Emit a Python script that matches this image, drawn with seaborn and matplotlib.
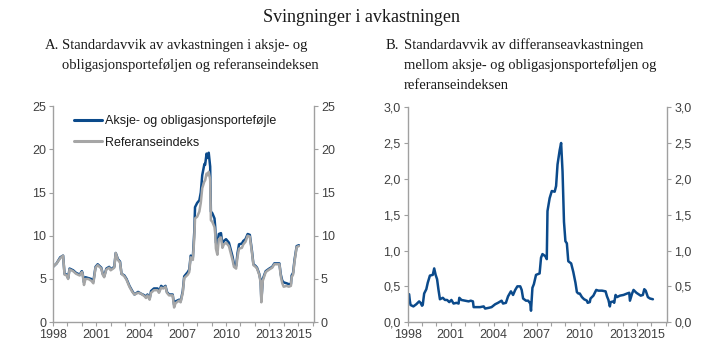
import matplotlib
matplotlib.use("Agg")
import matplotlib.pyplot as plt
import seaborn as sns
import pandas as pd
from matplotlib.ticker import FuncFormatter

# panel A: standard deviation of returns (percent)
years_a = [1998.00, 1998.25, 1998.50, 1998.70, 1998.80, 1998.95, 1999.05, 1999.15, 1999.40, 1999.60,
           1999.85, 2000.00, 2000.05, 2000.15, 2000.25, 2000.45, 2000.65, 2000.80, 2000.95, 2001.10,
           2001.35, 2001.45, 2001.55, 2001.70, 2001.90, 2002.00, 2002.25, 2002.35, 2002.50, 2002.65,
           2002.75, 2002.95, 2003.10, 2003.30, 2003.50, 2003.65, 2003.90, 2004.10, 2004.35, 2004.45,
           2004.55, 2004.70, 2004.80, 2005.00, 2005.25, 2005.35, 2005.50, 2005.65, 2005.80, 2005.90,
           2006.05, 2006.30, 2006.40, 2006.50, 2006.75, 2006.85, 2007.00, 2007.10, 2007.35, 2007.45,
           2007.55, 2007.70, 2007.80, 2007.85, 2008.00, 2008.15, 2008.25, 2008.35, 2008.50, 2008.55,
           2008.65, 2008.72, 2008.80, 2008.90, 2008.95, 2009.05, 2009.20, 2009.25, 2009.30, 2009.40,
           2009.50, 2009.65, 2009.75, 2009.85, 2010.00, 2010.20, 2010.45, 2010.55, 2010.70, 2010.80,
           2010.90, 2011.10, 2011.20, 2011.35, 2011.50, 2011.65, 2011.80, 2011.90, 2012.05, 2012.15,
           2012.30, 2012.40, 2012.45, 2012.55, 2012.75, 2013.00, 2013.20, 2013.35, 2013.70, 2013.80,
           2013.90, 2014.00, 2014.20, 2014.35, 2014.50, 2014.55, 2014.65, 2014.75, 2014.90, 2015.05]
portfolio = [6.4, 6.8, 7.5, 7.7, 5.6, 5.5, 5.1, 6.2, 6.0, 5.7,
             5.5, 5.9, 5.7, 4.6, 5.2, 5.1, 5.0, 4.7, 6.4, 6.7,
             6.3, 5.6, 5.3, 6.2, 6.4, 6.1, 6.4, 8.0, 7.3, 7.0,
             5.6, 5.4, 5.0, 4.2, 3.6, 3.2, 3.5, 3.3, 3.1, 2.9,
             3.2, 2.7, 3.6, 3.9, 3.9, 3.5, 4.2, 4.0, 4.2, 3.5,
             3.2, 3.2, 2.0, 2.4, 2.6, 2.4, 3.6, 5.3, 5.8, 6.1,
             7.7, 7.5, 10.5, 13.3, 13.8, 14.1, 15.0, 17.0, 18.3, 18.2,
             19.5, 19.0, 19.6, 18.0, 12.8, 12.6, 12.0, 11.0, 9.2, 9.0,
             10.2, 10.3, 9.0, 9.4, 9.6, 9.2, 7.6, 6.7, 6.5, 8.0,
             9.0, 9.1, 9.4, 9.6, 10.2, 10.1, 8.2, 6.7, 6.5, 6.3,
             5.6, 4.8, 2.5, 5.0, 5.9, 6.2, 6.4, 6.8, 6.8, 5.5,
             4.8, 4.6, 4.5, 4.4, 4.4, 5.4, 5.7, 7.2, 8.8, 8.9]
benchmark = [6.4, 6.8, 7.4, 7.7, 5.5, 5.4, 5.0, 6.1, 5.9, 5.6,
             5.4, 5.8, 5.6, 4.3, 5.0, 5.0, 4.8, 4.5, 6.3, 6.6,
             6.2, 5.5, 5.2, 6.1, 6.3, 6.0, 6.3, 8.0, 7.2, 6.9,
             5.6, 5.3, 4.9, 4.1, 3.5, 3.2, 3.4, 3.3, 3.0, 2.8,
             3.1, 2.6, 3.4, 3.7, 3.7, 3.4, 4.0, 3.9, 4.1, 3.4,
             3.1, 3.1, 1.7, 2.2, 2.5, 2.3, 3.4, 5.1, 5.5, 5.8,
             7.5, 7.2, 9.8, 12.0, 12.2, 12.8, 13.8, 15.5, 16.3, 16.4,
             17.2, 17.0, 17.4, 16.5, 11.8, 11.6, 11.0, 10.2, 8.5, 7.8,
             9.6, 9.8, 8.6, 9.0, 9.2, 8.8, 7.2, 6.4, 6.2, 7.6,
             8.5, 8.6, 9.0, 9.3, 10.0, 9.9, 8.0, 6.6, 6.4, 6.2,
             5.5, 4.6, 2.3, 4.8, 5.8, 6.1, 6.3, 6.7, 6.7, 5.3,
             4.5, 4.1, 4.2, 4.1, 4.2, 5.2, 5.5, 7.0, 8.7, 8.8]

# panel B: standard deviation of the excess return (percentage points)
years_b = [1998.00, 1998.10, 1998.15, 1998.20, 1998.40, 1998.60, 1998.80, 1998.90, 1999.00, 1999.05,
           1999.15, 1999.30, 1999.40, 1999.55, 1999.75, 1999.85, 1999.95, 2000.05, 2000.15, 2000.25,
           2000.45, 2000.60, 2000.75, 2000.90, 2001.05, 2001.20, 2001.40, 2001.55, 2001.60, 2001.75,
           2002.00, 2002.25, 2002.40, 2002.55, 2002.60, 2002.80, 2003.05, 2003.30, 2003.40, 2003.65,
           2003.85, 2004.10, 2004.30, 2004.55, 2004.65, 2004.85, 2005.00, 2005.20, 2005.35, 2005.50,
           2005.65, 2005.85, 2005.95, 2006.05, 2006.25, 2006.40, 2006.55, 2006.60, 2006.70, 2006.80,
           2006.95, 2007.20, 2007.30, 2007.40, 2007.60, 2007.70, 2007.75, 2007.90, 2008.05, 2008.25,
           2008.35, 2008.45, 2008.60, 2008.70, 2008.80, 2008.90, 2009.00, 2009.10, 2009.20, 2009.40,
           2009.55, 2009.70, 2009.80, 2009.90, 2010.00, 2010.15, 2010.30, 2010.50, 2010.55, 2010.70,
           2010.75, 2010.95, 2011.15, 2011.30, 2011.55, 2011.80, 2011.90, 2012.00, 2012.10, 2012.15,
           2012.35, 2012.40, 2012.50, 2012.60, 2012.80, 2013.05, 2013.30, 2013.45, 2013.50, 2013.65,
           2013.75, 2013.95, 2014.10, 2014.25, 2014.40, 2014.50, 2014.60, 2014.75, 2014.90, 2015.10]
excess = [0.38, 0.39, 0.30, 0.24, 0.22, 0.25, 0.29, 0.27, 0.23, 0.24,
          0.40, 0.46, 0.55, 0.65, 0.66, 0.75, 0.66, 0.60, 0.45, 0.32,
          0.34, 0.31, 0.31, 0.28, 0.31, 0.26, 0.27, 0.26, 0.34, 0.31,
          0.30, 0.29, 0.30, 0.29, 0.21, 0.21, 0.21, 0.22, 0.19, 0.20,
          0.21, 0.25, 0.27, 0.30, 0.26, 0.27, 0.36, 0.43, 0.38, 0.45,
          0.50, 0.50, 0.45, 0.33, 0.30, 0.30, 0.26, 0.16, 0.48, 0.53,
          0.66, 0.68, 0.90, 0.95, 0.92, 0.88, 1.55, 1.73, 1.83, 1.82,
          1.90, 2.20, 2.40, 2.50, 2.10, 1.40, 1.13, 1.10, 0.85, 0.82,
          0.70, 0.55, 0.42, 0.40, 0.40, 0.35, 0.32, 0.30, 0.27, 0.28,
          0.33, 0.37, 0.45, 0.44, 0.44, 0.43, 0.36, 0.31, 0.22, 0.28,
          0.29, 0.27, 0.38, 0.35, 0.37, 0.38, 0.40, 0.41, 0.30, 0.40,
          0.45, 0.41, 0.39, 0.37, 0.38, 0.46, 0.44, 0.35, 0.33, 0.32]

tick_years = [1998, 2001, 2004, 2007, 2010, 2013, 2015]
label_a = "Aksje- og obligasjonsporteføjle"
label_b = "Referanseindeks"

blue = "#0b4a8b"
grey = "#a6a6a6"
spine_col = "#a0a0a0"
text_col = "#404040"

sns.set_style("ticks")
plt.rcParams["font.family"] = ["Liberation Sans", "DejaVu Sans"]

df_a = pd.DataFrame({
    "year": years_a + years_a,
    "value": portfolio + benchmark,
    "series": [label_a] * len(years_a) + [label_b] * len(years_a),
})
df_b = pd.DataFrame({"year": years_b, "value": excess})

fig = plt.figure(figsize=(7.19, 3.62), dpi=100)
ax1 = fig.add_axes([0.0737, 0.110, 0.363, 0.597])
ax2 = fig.add_axes([0.567, 0.110, 0.361, 0.594])

sns.lineplot(data=df_a, x="year", y="value", hue="series", hue_order=[label_a, label_b],
             palette=[blue, grey], linewidth=1.8, ax=ax1)
sns.lineplot(data=df_b, x="year", y="value", color=blue, linewidth=1.8, ax=ax2)


def style_axis(ax, ymax, ystep, fmt):
    ax.set_xlim(1998, 2016.1)
    ax.set_ylim(0, ymax)
    ax.set_xticks(range(1998, 2017))
    ax.set_xticklabels([str(y) if y in tick_years else "" for y in range(1998, 2017)])
    ax.set_yticks([i * ystep for i in range(int(round(ymax / ystep)) + 1)])
    ax.yaxis.set_major_formatter(FuncFormatter(fmt))
    ax.set_xlabel("")
    ax.set_ylabel("")
    ax.spines["top"].set_visible(False)
    for s in ["left", "right", "bottom"]:
        ax.spines[s].set_visible(True)
        ax.spines[s].set_color(spine_col)
        ax.spines[s].set_linewidth(1.0)
    ax.tick_params(axis="both", colors=spine_col, labelcolor=text_col, labelsize=9,
                   length=3, width=0.8, direction="out")
    ax.tick_params(axis="y", right=True, labelright=True, pad=2)
    ax.tick_params(axis="x", pad=2)
    ax.grid(False)


style_axis(ax1, 25, 5, lambda v, p: f"{v:.0f}")
style_axis(ax2, 3.0, 0.5, lambda v, p: f"{v:.1f}".replace(".", ","))

leg = ax1.legend(loc="upper left", bbox_to_anchor=(0.06, 0.98), frameon=False, fontsize=9,
                 handlelength=2.3, handletextpad=0.2, labelspacing=0.75, borderaxespad=0)
for line in leg.get_lines():
    line.set_linewidth(2.2)
for t in leg.get_texts():
    t.set_color("#1a1a1a")

# titles in serif, one fig.text per line
serif = ["Liberation Serif", "DejaVu Serif"]
dark = "#1a1a1a"
fig.text(0.503, 0.939, "Svingninger i avkastningen", ha="center", va="baseline",
         fontsize=13, family=serif, color=dark)

sub_a = ["Standardavvik av avkastningen i aksje- og",
         "obligasjonsporteføljen og referanseindeksen"]
sub_b = ["Standardavvik av differanseavkastningen",
         "mellom aksje- og obligasjonsporteføljen og",
         "referanseindeksen"]
line_y = [0.8646, 0.8094, 0.7541]

fig.text(0.063, line_y[0], "A.", ha="left", va="baseline", fontsize=10.5, family=serif, color=dark)
for i, s in enumerate(sub_a):
    fig.text(0.086, line_y[i], s, ha="left", va="baseline", fontsize=10.5, family=serif, color=dark)
fig.text(0.537, line_y[0], "B.", ha="left", va="baseline", fontsize=10.5, family=serif, color=dark)
for i, s in enumerate(sub_b):
    fig.text(0.562, line_y[i], s, ha="left", va="baseline", fontsize=10.5, family=serif, color=dark)

fig.savefig("out.png", dpi=100)
